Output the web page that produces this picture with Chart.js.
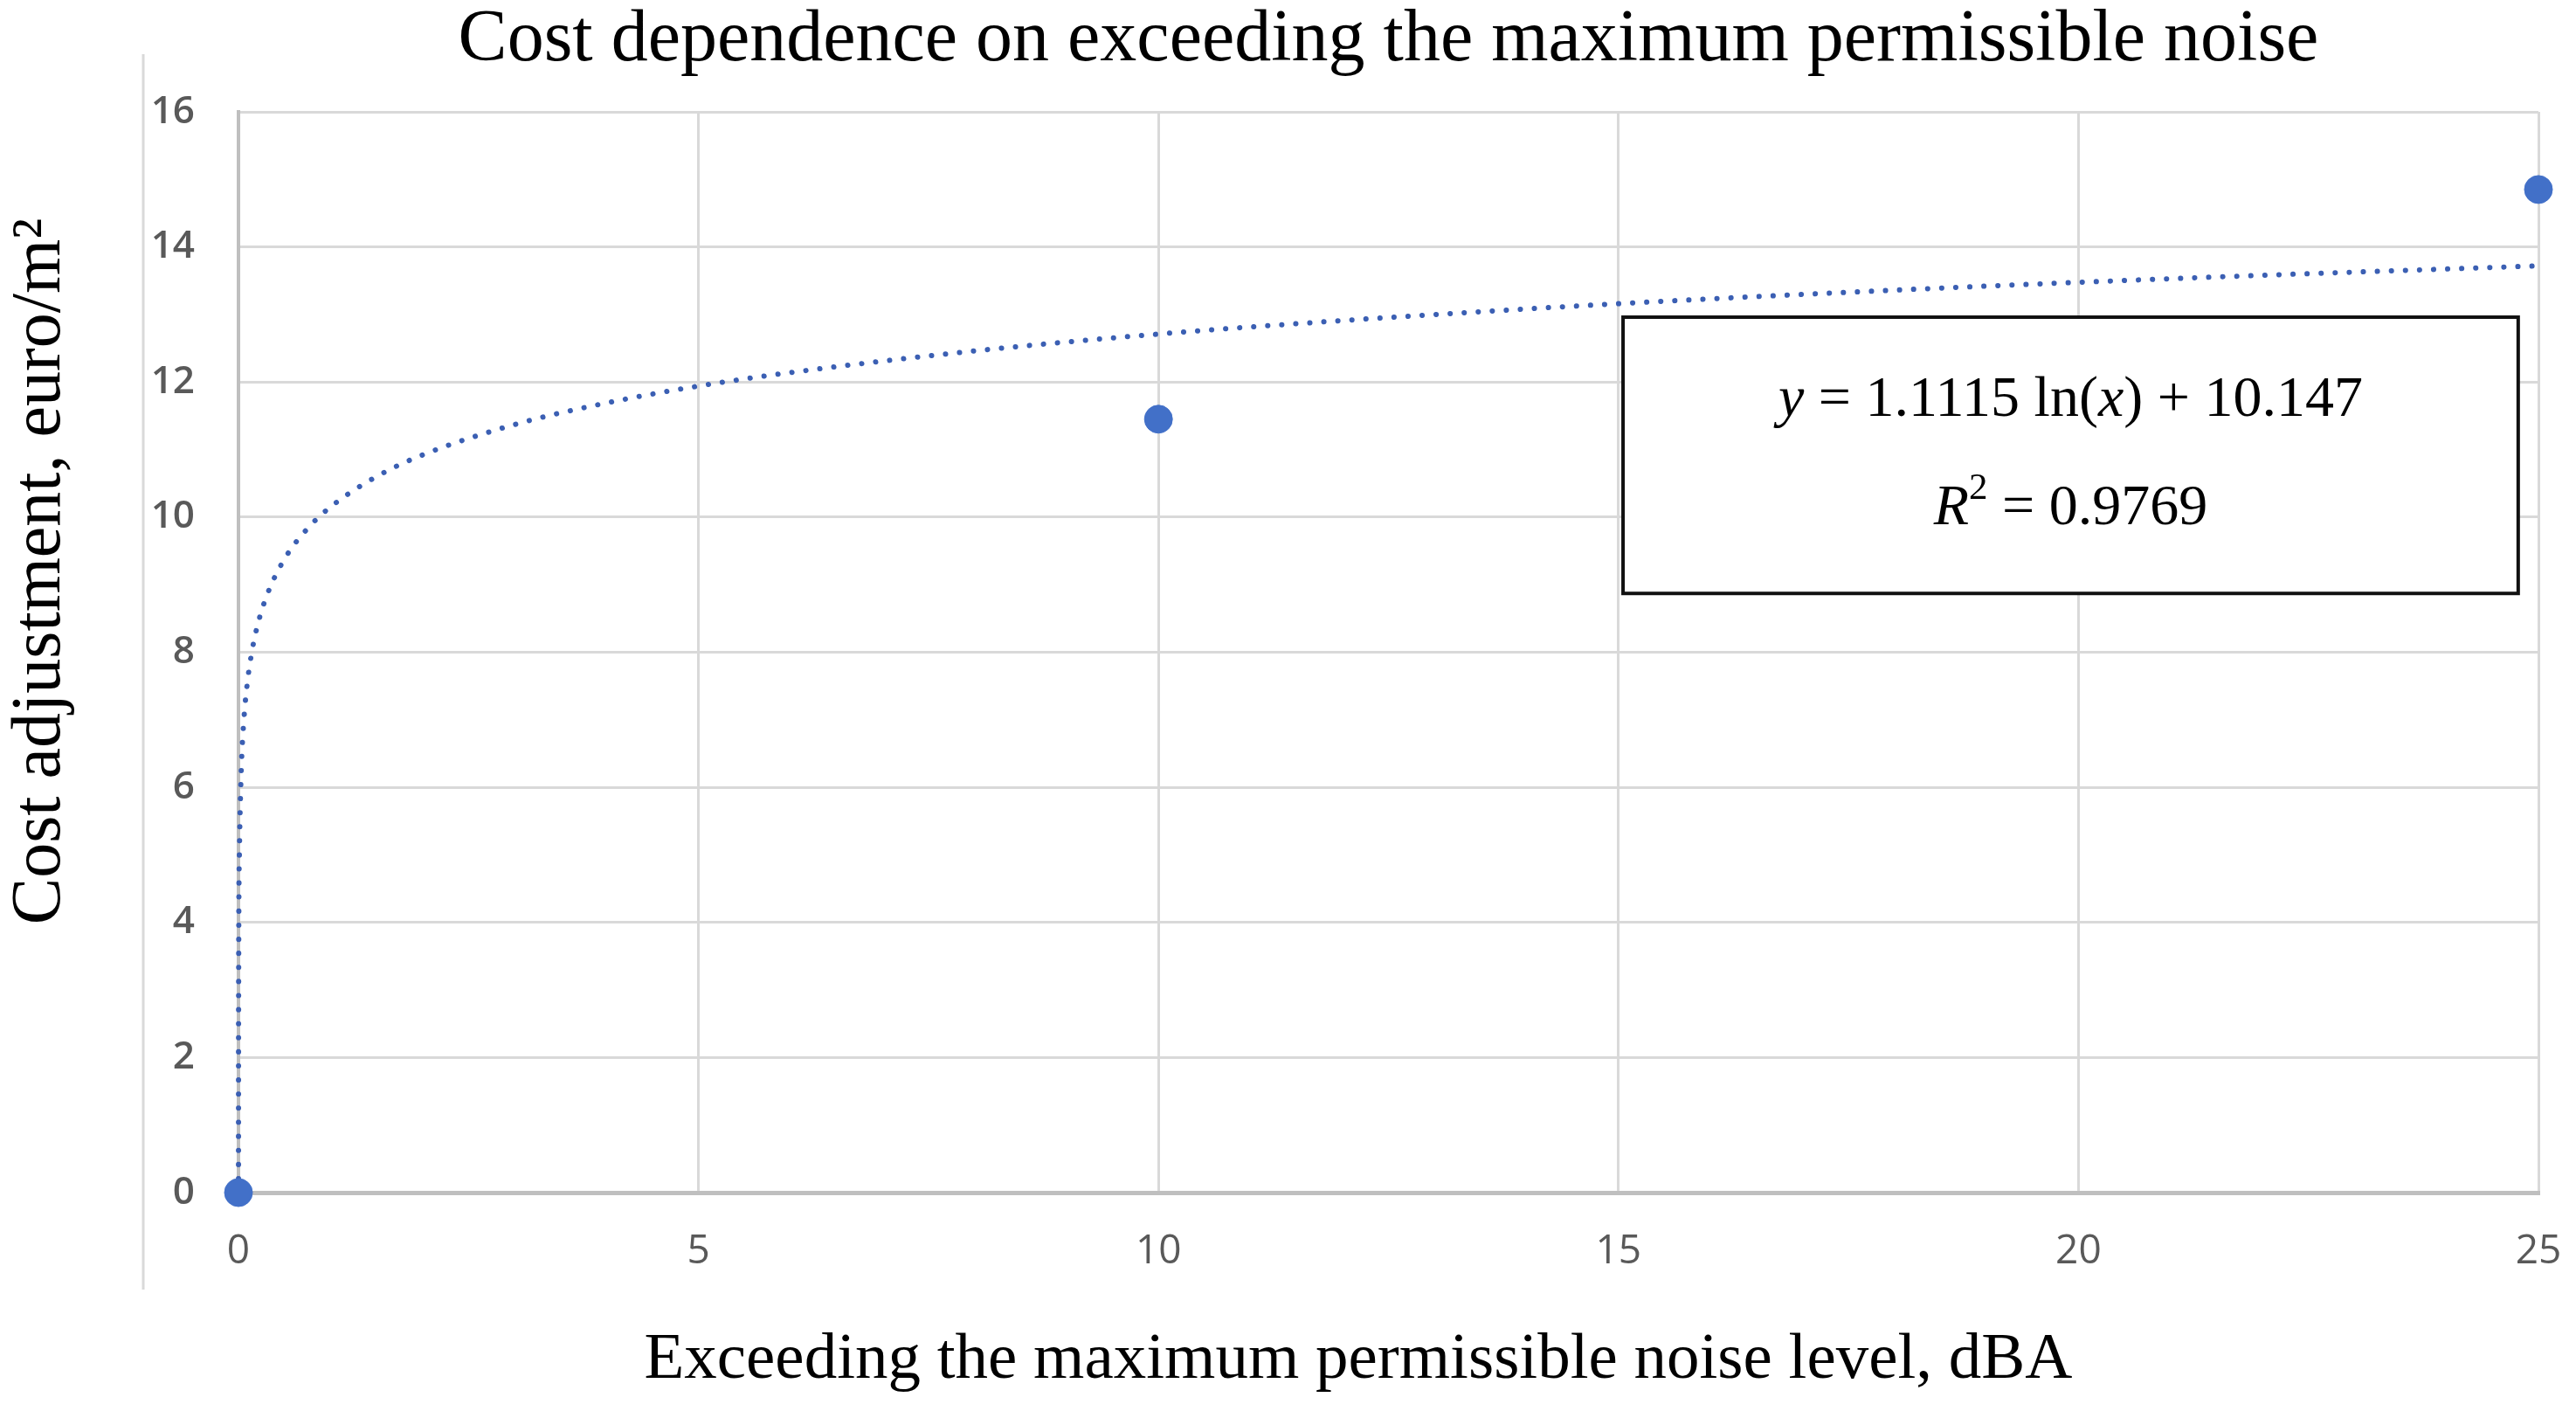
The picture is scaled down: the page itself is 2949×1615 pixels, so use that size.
<!DOCTYPE html>
<html lang="en">
<head>
  <meta charset="UTF-8">
  <title>Cost dependence on exceeding the maximum permissible noise</title>
  <script src="https://cdn.jsdelivr.net/npm/chart.js"></script>
  <style>
    html, body {
      margin: 0;
      padding: 0;
      background-color: #ffffff;
    }
    .chart-container {
      position: relative;
      width: 2949px;
      height: 1615px;
    }
  </style>
</head>
<body>
  <div class="chart-container">
    <canvas id="noiseChart"></canvas>
  </div>

  <script>
    // Measured points
    const noiseLevels = [0, 10, 25];
    const costValues = [0, 11.45, 14.85];

    // Logarithmic trendline
    const trendX = [0.0001, 0.001, 0.01, 0.03, 0.06, 0.1, 0.15, 0.2, 0.3, 0.5, 0.75, 1, 1.5, 2, 3, 4, 5, 6, 8, 10, 12, 15, 18, 21, 25];
    const trendY = [0, 2.47, 5.03, 6.25, 7.02, 7.59, 8.04, 8.36, 8.81, 9.38, 9.83, 10.15, 10.6, 10.92, 11.37, 11.69, 11.94, 12.14, 12.46, 12.71, 12.91, 13.16, 13.36, 13.53, 13.72];

    const xTicks = [0, 5, 10, 15, 20, 25];
    const yTicks = [0, 2, 4, 6, 8, 10, 12, 14, 16];

    const xTitle = 'Exceeding the maximum permissible noise level, dBA';
    const yTitle = 'Cost adjustment, euro/m²';

    const blue = '#4270c8';
    const dotBlue = '#3b5fb3';
    const gridGrey = '#d9d9d9';

    function runFont(style, size) {
      if (style === 'italic') return 'italic ' + size + 'px "Liberation Serif"';
      if (style === 'sup') return Math.round(size * 0.65) + 'px "Liberation Serif"';
      return size + 'px "Liberation Serif"';
    }

    function drawRuns(ctx, runs, cx, cy, size) {
      let total = 0;
      runs.forEach(r => {
        ctx.font = runFont(r[0], size);
        total += ctx.measureText(r[1]).width;
      });
      let xPos = cx - total / 2;
      ctx.fillStyle = '#000000';
      ctx.textBaseline = 'middle';
      ctx.textAlign = 'left';
      runs.forEach(r => {
        ctx.font = runFont(r[0], size);
        const dy = r[0] === 'sup' ? -size * 0.35 : 0;
        ctx.fillText(r[1], xPos, cy + dy);
        xPos += ctx.measureText(r[1]).width;
      });
    }

    // Frame line, axis titles and the equation box
    const extras = {
      id: 'extras',
      beforeDraw(chart) {
        const ctx = chart.ctx;
        ctx.save();
        ctx.strokeStyle = gridGrey;
        ctx.lineWidth = 3;
        ctx.beginPath();
        ctx.moveTo(164, 62);
        ctx.lineTo(164, 1476);
        ctx.stroke();
        ctx.restore();
      },
      afterDraw(chart) {
        const ctx = chart.ctx;
        const x = chart.scales.x, y = chart.scales.y;

        ctx.save();
        ctx.fillStyle = '#000000';
        ctx.textAlign = 'center';
        ctx.textBaseline = 'middle';
        ctx.font = '75px "Liberation Serif"';
        ctx.fillText(xTitle, 1555, 1557);
        ctx.translate(47, 654);
        ctx.rotate(-Math.PI / 2);
        ctx.font = '80px "Liberation Serif"';
        ctx.fillText(yTitle, 0, 0);
        ctx.restore();

        const left = x.getPixelForValue(15.05);
        const right = x.getPixelForValue(24.78);
        const top = y.getPixelForValue(12.96);
        const bottom = y.getPixelForValue(8.87);
        ctx.save();
        ctx.fillStyle = '#ffffff';
        ctx.fillRect(left, top, right - left, bottom - top);
        ctx.strokeStyle = '#111111';
        ctx.lineWidth = 4;
        ctx.strokeRect(left, top, right - left, bottom - top);

        const cx = (left + right) / 2;
        const size = 66;
        drawRuns(ctx, [['italic', 'y'], ['normal', ' = 1.1115 ln('], ['italic', 'x'], ['normal', ') + 10.147']], cx, top + 96, size);
        drawRuns(ctx, [['italic', 'R'], ['sup', '2'], ['normal', ' = 0.9769']], cx, top + 220, size);
        ctx.restore();
      }
    };

    const ctx = document.getElementById('noiseChart').getContext('2d');
    const noiseChart = new Chart(ctx, {
      data: {
        datasets: [
          {
            type: 'scatter',
            label: 'Cost adjustment',
            data: noiseLevels.map((v, i) => ({ x: v, y: costValues[i] })),
            backgroundColor: blue,
            borderColor: blue,
            pointRadius: 16,
            pointHoverRadius: 16,
            clip: false,
            order: 1
          },
          {
            type: 'line',
            label: 'Log. trendline',
            data: trendX.map((v, i) => ({ x: v, y: trendY[i] })),
            borderColor: dotBlue,
            borderWidth: 6,
            borderDash: [0.1, 16],
            borderCapStyle: 'round',
            cubicInterpolationMode: 'monotone',
            pointRadius: 0,
            fill: false,
            clip: false,
            order: 2
          }
        ]
      },
      options: {
        responsive: true,
        maintainAspectRatio: false,
        animation: false,
        devicePixelRatio: 1,
        layout: {
          padding: { top: 0, right: 43, bottom: 0, left: 0 }
        },
        scales: {
          x: {
            type: 'linear',
            min: 0,
            max: 25,
            afterBuildTicks: s => { s.ticks = xTicks.map(v => ({ value: v })); },
            afterFit: s => { s.height = 250; s.paddingLeft = 0; s.paddingRight = 0; },
            grid: { color: gridGrey, lineWidth: 3, drawTicks: false },
            border: { color: '#bfbfbf', width: 5 },
            ticks: {
              color: '#595959',
              font: { family: 'Open Sans', size: 46 },
              padding: 40
            }
          },
          y: {
            type: 'linear',
            min: 0,
            max: 16,
            afterBuildTicks: s => { s.ticks = yTicks.map(v => ({ value: v })); },
            afterFit: s => { s.width = 273; s.paddingTop = 0; s.paddingBottom = 0; },
            grid: { color: gridGrey, lineWidth: 3, drawTicks: false },
            border: { color: '#bfbfbf', width: 4 },
            ticks: {
              color: '#595959',
              font: { family: 'Open Sans', size: 44, weight: '600' },
              padding: 50
            }
          }
        },
        plugins: {
          legend: { display: false },
          tooltip: { enabled: false },
          title: {
            display: true,
            text: 'Cost dependence on exceeding the maximum permissible noise',
            color: '#000000',
            fullSize: false,
            font: { family: 'Liberation Serif', size: 84, weight: 'normal', lineHeight: 1.0 },
            padding: { top: 5, bottom: 39 }
          }
        }
      },
      plugins: [extras]
    });
  </script>
</body>
</html>
